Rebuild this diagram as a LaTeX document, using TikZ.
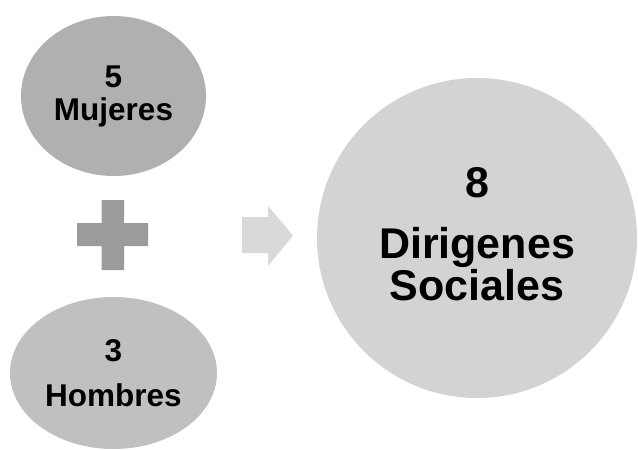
\documentclass[tikz,border=0pt]{standalone}
\usepackage{fontspec}
\setmainfont{Liberation Sans}
\usetikzlibrary{shapes.geometric}
\definecolor{grisA}{HTML}{B0B0B0}
\definecolor{grisB}{HTML}{C0C0C0}
\definecolor{grisC}{HTML}{D3D3D3}
\definecolor{grisPlus}{HTML}{9B9B9B}
\definecolor{grisFlecha}{HTML}{D9D9D9}
\begin{document}
\begin{tikzpicture}[x=1pt,y=-1pt,
    bolita/.style={ellipse,inner sep=0pt,align=center,font=\bfseries}]
            \useasboundingbox (0,0) rectangle (638,450);
            % Grupos
            \node[bolita,fill=grisA,minimum width=185pt,minimum height=160pt,
                  font=\bfseries\fontsize{31.5}{33}\selectfont] (M) at (113.5,96) {5\\Mujeres};
            \node[bolita,fill=grisB,minimum width=207pt,minimum height=152pt,
                  font=\bfseries\fontsize{31.5}{45}\selectfont] (H) at (113.5,373) {3\\Hombres};
            % Total
            \node[bolita,circle,fill=grisC,minimum size=320pt,
                  font=\bfseries\fontsize{43}{42}\selectfont] (T) at (477,238) {8\\[19pt]Dirigenes\\Sociales\\[-34pt]\mbox{}};
            % Suma
            \fill[grisPlus] (101.7,200) -- (124,200) -- (124,223) -- (148,223) -- (148,246)
                -- (124,246) -- (124,270) -- (101.7,270) -- (101.7,246) -- (77,246)
                -- (77,223) -- (101.7,223) -- cycle;
            % Flecha
            \fill[grisFlecha] (242,217) -- (268,217) -- (268,206) -- (293,235.5)
                -- (268,266) -- (268,253) -- (242,253) -- cycle;
        \end{tikzpicture}
\end{document}
